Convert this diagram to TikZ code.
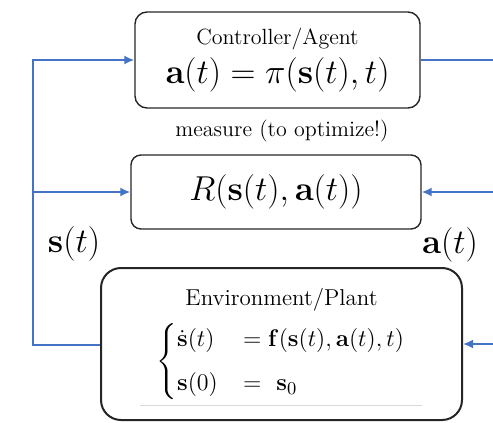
\documentclass[tikz,border=0pt]{standalone}
\usepackage{amsmath}
\usepackage{amssymb}
\usetikzlibrary{arrows.meta}
\begin{document}
\begin{tikzpicture}[x=0.5pt,y=-0.5pt,
  block/.style={draw=black!85, line width=0.7pt, align=center, inner sep=0pt},
  flow/.style={draw={rgb,255:red,68;green,114;blue,196}, line width=0.9pt},
  tip/.style={-{Latex[length=5pt,width=4.5pt]}}]
\clip (0,0) rectangle (493,423);
\node[block, rounded corners=6pt, minimum width=142.5pt, minimum height=48pt] (ctrl) at (277.5,60)
  {\fontsize{11}{13}\selectfont Controller/Agent\\[3pt] \fontsize{17}{19}\selectfont $\mathbf{a}(t) = \pi(\mathbf{s}(t),t)$};
\node[font=\fontsize{11}{13}\selectfont] (meas) at (282,131) {measure (to optimize!)};
\node[block, rounded corners=5pt, minimum width=145pt, minimum height=37pt] (reward) at (276,192)
  {\fontsize{18.5}{20}\selectfont $R(\mathbf{s}(t),\mathbf{a}(t))$};
\node[block, line width=1pt, rounded corners=10pt, minimum width=180.5pt, minimum height=76pt] (env) at (281.5,344)
  {\fontsize{11.5}{14}\selectfont Environment/Plant\\[4pt]
   \fontsize{12.7}{15}\selectfont $\begin{cases}\dot{\mathbf{s}}(t) & = \mathbf{f}(\mathbf{s}(t),\mathbf{a}(t),t)\\[4pt] \mathbf{s}(0) & =\ \mathbf{s}_0\end{cases}$\\[-2pt]};
\draw[black!15, line width=0.4pt] (140,405) -- (422,405);
\coordinate (L) at (33,345);
\coordinate (E) at (500,345);
\node[font=\fontsize{19}{21}\selectfont] (sl) at (74,244) {$\mathbf{s}(t)$};
\node[font=\fontsize{19}{21}\selectfont] (al) at (450,245) {$\mathbf{a}(t)$};
\draw[flow, tip] (env.west |- L) -- (L) |- (ctrl.west);
\draw[flow, tip] (L |- reward.west) -- (reward.west);
\draw[flow] (ctrl.east) -- (ctrl.east -| E);
\draw[flow, tip] (reward.east -| E) -- (reward.east);
\draw[flow, tip] (env.east -| E) -- (env.east);
\end{tikzpicture}
\end{document}
